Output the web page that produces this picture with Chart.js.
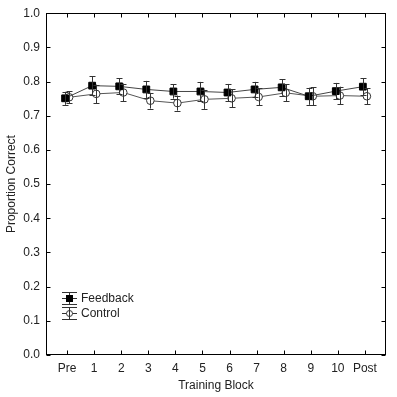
<!DOCTYPE html>
<html>
<head>
<meta charset="utf-8">
<script src="https://cdn.jsdelivr.net/npm/chart.js@4"></script>
<style>
  html,body{margin:0;padding:0;background:#fff;}
  #wrap{width:397px;height:397px;}
</style>
</head>
<body>
<div id="wrap"><canvas id="chart" width="397" height="397"></canvas></div>
<script>
// Data
const blocks=['Pre','1','2','3','4','5','6','7','8','9','10','Post'];
const feedbackMean=[0.751,0.788,0.786,0.777,0.771,0.771,0.768,0.777,0.783,0.757,0.772,0.785];
const feedbackErr=[0.019,0.028,0.023,0.025,0.021,0.028,0.025,0.022,0.024,0.025,0.024,0.024];
const controlMean=[0.754,0.764,0.768,0.744,0.737,0.748,0.751,0.755,0.767,0.757,0.759,0.757];
const controlErr=[0.018,0.027,0.026,0.023,0.022,0.028,0.026,0.025,0.025,0.027,0.026,0.024];
const yTicks=[0,0.1,0.2,0.3,0.4,0.5,0.6,0.7,0.8,0.9,1.0];

const FONT='"Liberation Sans", Arial, sans-serif';
const INK='#222';
const jitter=0.075;

function pts(means, shift){ return means.map((v,i)=>({x:i+shift,y:v})); }

// Error bars, frame, inner ticks, legend
const extras={
  id:'extras',
  afterDatasetsDraw(chart){
    const ctx=chart.ctx, xs=chart.scales.x, ys=chart.scales.y;
    const errs=[feedbackErr,controlErr];
    ctx.save();
    ctx.strokeStyle='#333'; ctx.lineWidth=1;
    chart.data.datasets.forEach((ds,d)=>{
      ds.data.forEach((p,i)=>{
        const x=Math.round(xs.getPixelForValue(p.x))+0.5;
        const y1=ys.getPixelForValue(p.y+errs[d][i]);
        const y2=ys.getPixelForValue(p.y-errs[d][i]);
        ctx.beginPath();
        ctx.moveTo(x,y1); ctx.lineTo(x,y2);
        ctx.moveTo(x-3,Math.round(y1)+0.5); ctx.lineTo(x+3,Math.round(y1)+0.5);
        ctx.moveTo(x-3,Math.round(y2)+0.5); ctx.lineTo(x+3,Math.round(y2)+0.5);
        ctx.stroke();
      });
    });
    ctx.restore();
  },
  afterDraw(chart){
    const ctx=chart.ctx, a=chart.chartArea, xs=chart.scales.x, ys=chart.scales.y;
    ctx.save();
    ctx.strokeStyle='#000'; ctx.lineWidth=1;
    const L=Math.round(a.left)+0.5, R=Math.round(a.right)-0.5, T=Math.round(a.top)+0.5, B=Math.round(a.bottom)-0.5;
    ctx.strokeRect(L,T,R-L,B-T);
    ctx.beginPath();
    yTicks.forEach(v=>{
      const y=Math.round(ys.getPixelForValue(v))+0.5;
      ctx.moveTo(L,y); ctx.lineTo(L+4,y);
      ctx.moveTo(R,y); ctx.lineTo(R-4,y);
    });
    blocks.forEach((b,i)=>{
      const x=Math.round(xs.getPixelForValue(i))+0.5;
      ctx.moveTo(x,B); ctx.lineTo(x,B-4);
      ctx.moveTo(x,T); ctx.lineTo(x,T+4);
    });
    ctx.stroke();

    // legend
    const lx=69, rows=[298,313];
    ctx.strokeStyle='#333';
    chart.data.datasets.forEach((ds,d)=>{
      const y=rows[d];
      ctx.beginPath();
      ctx.moveTo(lx+0.5,y-6); ctx.lineTo(lx+0.5,y+6);
      [-6,0,6].forEach(o=>{ ctx.moveTo(lx-7,y+o+0.5); ctx.lineTo(lx+8,y+o+0.5); });
      ctx.stroke();
      if(d===0){
        ctx.fillStyle='#000'; ctx.fillRect(lx-3,y-3,7,7);
      }else{
        ctx.fillStyle='#fff';
        ctx.beginPath(); ctx.arc(lx+0.5,y+0.5,3,0,Math.PI*2); ctx.fill(); ctx.stroke();
        ctx.beginPath(); ctx.moveTo(lx+0.5,y-3); ctx.lineTo(lx+0.5,y+4); ctx.stroke();
      }
      ctx.fillStyle=INK; ctx.font='12px '+FONT; ctx.textBaseline='middle'; ctx.textAlign='left';
      ctx.fillText(ds.label,lx+12,y+1);
    });
    ctx.restore();
  }
};

new Chart(document.getElementById('chart').getContext('2d'),{
  type:'line',
  data:{datasets:[
    {label:'Feedback', data:pts(feedbackMean,-jitter), borderColor:'#444', borderWidth:1,
     pointStyle:'rect', pointRadius:4.8, pointBackgroundColor:'#000', pointBorderColor:'#000', pointBorderWidth:1},
    {label:'Control', data:pts(controlMean,jitter), borderColor:'#555', borderWidth:1,
     pointStyle:'circle', pointRadius:3.8, pointBackgroundColor:'#fff', pointBorderColor:'#333', pointBorderWidth:1}
  ]},
  options:{
    responsive:false, animation:false, parsing:true,
    layout:{padding:{top:8,right:11,left:0,bottom:0}},
    plugins:{legend:{display:false}, tooltip:{enabled:false}},
    scales:{
      x:{type:'linear', min:-0.78, max:11.78,
        afterBuildTicks(s){ s.ticks=blocks.map((b,i)=>({value:i})); },
        afterFit(s){ s.height=42; },
        grid:{display:false, drawTicks:false}, border:{display:false},
        ticks:{padding:6, autoSkip:false, maxRotation:0, color:INK, font:{family:FONT,size:12},
          callback:(v)=>blocks[v]},
        title:{display:true, text:'Training Block', color:INK, font:{family:FONT,size:12}, padding:{top:3}}
      },
      y:{type:'linear', min:0, max:1,
        afterBuildTicks(s){ s.ticks=yTicks.map(v=>({value:v})); },
        afterFit(s){ s.width=46; },
        grid:{display:false, drawTicks:false}, border:{display:false},
        ticks:{padding:6, color:INK, font:{family:FONT,size:12}, callback:(v)=>Number(v).toFixed(1)},
        title:{display:true, text:'Proportion Correct', color:INK, font:{family:FONT,size:12}, padding:{bottom:1}}
      }
    }
  },
  plugins:[extras]
});
</script>
</body>
</html>
